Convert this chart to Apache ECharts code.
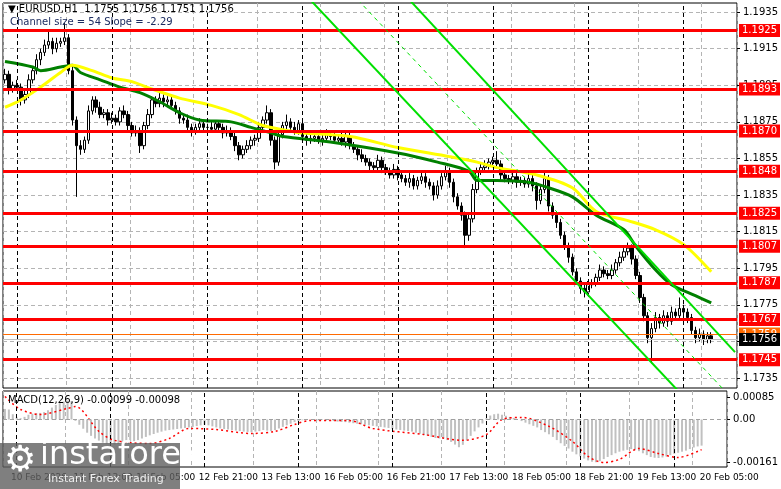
<!DOCTYPE html>
<html><head><meta charset="utf-8">
<script src="https://cdn.jsdelivr.net/npm/echarts@6/dist/echarts.min.js"></script>
<style>html,body{margin:0;padding:0;background:#fff}#c{width:781px;height:489px}</style>
</head><body><div id="c"></div>
<script>
// ---------- DATA ----------
const tickLabels = ['10 Feb 2026','11 Feb 13:00','12 Feb 05:00','12 Feb 21:00','13 Feb 13:00','16 Feb 05:00','16 Feb 21:00','17 Feb 13:00','18 Feb 05:00','18 Feb 21:00','19 Feb 13:00','20 Feb 05:00'];
const firstOpen = 1.1898;
const closes = [
1.1901,1.1893,1.1895,1.1894,1.1887,1.1890,1.1898,1.1903,1.1909,1.1913,
1.1917,1.1919,1.1915,1.1918,1.1919,1.1921,1.1903,1.1876,1.1862,1.1860,
1.1865,1.1881,1.1887,1.1883,1.1879,1.1880,1.1876,1.1877,1.1875,1.1881,
1.1879,1.1873,1.1869,1.1870,1.1862,1.1873,1.1879,1.1887,1.1885,1.1888,
1.1886,1.1887,1.1884,1.1881,1.1877,1.1876,1.1872,1.1870,1.1872,1.1874,
1.1872,1.1872,1.1871,1.1874,1.1872,1.1869,1.1870,1.1867,1.1862,1.1857,
1.1860,1.1862,1.1865,1.1866,1.1872,1.1876,1.1880,1.1865,1.1853,1.1868,
1.1873,1.1875,1.1872,1.1870,1.1874,1.1867,1.1865,1.1866,1.1867,1.1865,
1.1866,1.1868,1.1867,1.1865,1.1866,1.1864,1.1867,1.1862,1.1860,1.1857,
1.1855,1.1853,1.1851,1.1850,1.1854,1.1850,1.1848,1.1846,1.1849,1.1846,
1.1844,1.1842,1.1844,1.1840,1.1843,1.1845,1.1842,1.1840,1.1835,1.1840,
1.1845,1.1848,1.1842,1.1834,1.1829,1.1824,1.1813,1.1822,1.1838,1.1848,
1.1850,1.1851,1.1853,1.1854,1.1852,1.1846,1.1844,1.1843,1.1845,1.1842,
1.1843,1.1841,1.1844,1.1840,1.1832,1.1838,1.1844,1.1829,1.1824,1.1820,
1.1813,1.1807,1.1801,1.1793,1.1788,1.1784,1.1782,1.1786,1.1787,1.1790,
1.1794,1.1792,1.1791,1.1794,1.1798,1.1801,1.1804,1.1806,1.1800,1.1791,
1.1779,1.1769,1.1757,1.1762,1.1768,1.1765,1.1769,1.1766,1.1771,1.1769,
1.1773,1.1771,1.1768,1.1761,1.1757,1.1759,1.1756,1.1758,1.1756];
// wick lengths in pips above max(open,close) / below min(open,close)
const wickUp = [
3,2,2,3,2,2,3,2,3,2, 3,6,2,3,2,8,2,2,2,3, 2,3,2,2,3,2,2,3,2,2,
3,2,2,3,2,2,3,2,2,3, 2,2,3,2,2,2,3,2,2,3, 2,2,3,2,2,2,3,2,2,2,
2,3,2,2,3,2,4,2,2,3, 2,4,2,3,2,2,2,3,2,2, 2,3,2,2,2,3,2,2,2,2,
3,2,2,2,3,2,2,2,3,2, 2,2,3,2,2,3,2,2,2,3, 2,3,2,2,2,2,2,3,3,2,
2,3,2,2,5,2,2,2,3,2, 2,2,3,2,2,2,4,2,2,2, 2,2,2,2,2,2,3,2,2,2,
3,2,2,3,2,3,2,3,2,2, 2,2,2,3,3,2,3,2,3,2, 6,2,2,2,2,3,2,2,2];
const wickDn = [
2,3,2,2,3,2,2,2,2,3, 2,2,3,2,2,2,2,3,28,3, 2,2,2,3,2,2,3,2,2,2,
2,3,2,2,4,2,2,2,2,2, 3,2,2,2,3,2,2,3,2,2, 2,3,2,2,2,3,2,2,3,3,
2,2,2,3,2,2,2,3,4,2, 2,2,3,2,2,2,3,2,2,2, 3,2,2,2,2,2,3,2,2,3,
2,2,3,2,2,3,2,2,2,3, 2,2,3,2,2,2,3,2,3,2, 2,2,3,3,2,3,7,3,2,2,
2,2,2,2,2,3,2,2,2,3, 2,2,2,3,5,2,2,3,2,3, 2,2,3,2,2,3,3,2,2,2,
2,2,2,2,2,2,2,2,3,2, 3,3,3,14,2,3,2,3,2,2, 2,2,3,2,3,2,3,2,2];
// moving averages read at sample candles [index, price]
const maGreen = [[0,1.1908],[7,1.1905],[9,1.1903],[14,1.1905],[17,1.1906],[19,1.1902],[24,1.1898],[29,1.1894],[34,1.1891],[39,1.1886],[44,1.1880],[49,1.1876],[57,1.1875],[62,1.1872],[67,1.1869],[70,1.1867],[82,1.1864],[99,1.1858],[109,1.1853],[117,1.1848],[119,1.1843],[124,1.1843],[132,1.1842],[137,1.1839],[143,1.1834],[149,1.1824],[156,1.1816],[159,1.1807],[164,1.1794],[168,1.1786],[174,1.1780],[178,1.1776]];
const maYellow = [[0,1.1883],[4,1.1887],[9,1.1894],[14,1.1902],[17,1.1906],[22,1.1903],[27,1.1899],[32,1.1897],[37,1.1893],[44,1.1888],[52,1.1884],[59,1.1879],[65,1.1873],[72,1.1870],[74,1.1869],[87,1.1867],[99,1.1861],[112,1.1856],[119,1.1853],[124,1.1850],[134,1.1846],[143,1.1839],[149,1.1826],[157,1.1821],[164,1.1816],[171,1.1808],[178,1.1793]];
const levels = [1.1925,1.1893,1.1870,1.1848,1.1825,1.1807,1.1787,1.1767,1.1745];
const askLevel = 1.1759, bidLevel = 1.1756;
const priceTicks = [1.1735,1.1755,1.1775,1.1795,1.1815,1.1835,1.1855,1.1875,1.1895,1.1915,1.1935];
const channelLower = [[76.75,1.19416],[184,1.16949]];
const channelUpper = [[101.75,1.19416],[184,1.17491]];
const channelMid = [[89.25,1.19416],[184,1.1722]];
const daySeparators = [3,27,51,75,99,123,147,171];
// MACD histogram in 1e-5 units
const macdHist = [40,38,20,8, 5,10,18, 22,24,25,28, 35,45,55,62,68,72,70, -5,
-20,-35,-50,-62,-72,-80,-88, -92,-94,-95,-93,-90,-88,-85,-82,-78,-72,
-66,-60,-55,-50,-46,-42,-40,-38,-36, -34,-32,-30,-28,-25,-22,-20,-22,-26,
-30,-34,-36,-38,-40,-42,-44,-46,-47,-48,-46,-44,-40,-42,-44,-40,
-34,-28,-22,-16,-10,-6,-3,-2, -1,-2,-3,-2,-4,-5,-6,-8,-9,-10,
-12,-14,-16,-18,-20,-22,-24,-26,-28,-30,-32,-35,
-38,-40,-42,-44,-46,-50,-54,-58,-62,-66,-70,-72,-74,-78,-85,-95,-105,
-96,-80,-62,-45,-30,-15, 5,15,20,22,18,14,10,6,
0,-6,-12,-18,-24,-30,-40,-48,-56, -66,-78,-90,-100,-110,
-122,-132,-140,-148,-155,-160,-162,-158, -150,-142,-135,-128,-122,-118,-115,-112,
-115,-120,-128,-135,-142,-145,-146,-144, -140,-135,-130,-126,-122,-118,-112,-106,-102,-99];
const macdSignal = [[0,87],[4,38],[9,19],[16,42],[18,49],[24,-45],[28,-79],[37,-91],[42,-72],[47,-34],[54,-38],[63,-53],[69,-45],[74,-19],[78,-4],[88,-4],[94,-34],[107,-57],[117,-79],[123,-57],[127,0],[132,8],[139,-26],[145,-83],[149,-140],[153,-163],[157,-151],[162,-110],[167,-129],[172,-144],[178,-114]];
const NCAT = 185;

// ---------- BUILD ----------
const cats = Array.from({length:NCAT},(_,i)=>String(i));
const pip = 0.0001;
const candles = closes.map((c,i)=>{
  const o = i===0 ? firstOpen : closes[i-1];
  const hi = Math.max(o,c)+wickUp[i]*pip, lo = Math.min(o,c)-wickDn[i]*pip;
  return [o,c,lo,hi];
});
const toSparse = arr => { const a = new Array(NCAT).fill(null); arr.forEach(([i,v])=>a[i]=v); return a; };
const histData = macdHist.map(v=>v*1e-5);
const sigData = toSparse(macdSignal.map(([i,v])=>[i,v*1e-5]));
const font = 'DejaVu Sans';
const isTick = i => i%16===0 && i<=176;

const hLine = (v,color,width,bg,fg)=>({
  type:'line',xAxisIndex:0,yAxisIndex:0,data:[],silent:true,z:2,
  markLine:{symbol:'none',silent:true,animation:false,precision:4,
    data:[{yAxis:v}],
    lineStyle:{color:color,type:'solid',width:width},
    label:{show:true,position:'end',distance:2,formatter:()=>v.toFixed(4),backgroundColor:bg,color:fg,padding:[2,3,1,3],fontFamily:font,fontSize:10}}
});
const vLines = (xi,yi)=>({
  type:'line',xAxisIndex:xi,yAxisIndex:yi,data:[],silent:true,z:1,
  markLine:{symbol:'none',silent:true,animation:false,
    data:daySeparators.map(i=>({xAxis:i})),
    lineStyle:{color:'#000',type:[4,3],width:1},label:{show:false}}
});

const chart = echarts.init(document.getElementById('c'));
chart.setOption({
  animation:false,
  backgroundColor:'#fff',
  grid:[{left:3,right:41,top:3,bottom:101,show:true,borderColor:'#000',borderWidth:1},
        {left:3,right:41,top:391,bottom:22,show:true,borderColor:'#000',borderWidth:1}],
  xAxis:[
    {type:'category',data:cats,gridIndex:0,boundaryGap:true,axisLine:{show:false},axisTick:{show:false},axisLabel:{show:false},
     splitLine:{show:true,interval:(i)=>isTick(i),lineStyle:{color:'#b4b4b4',type:[4,3]}}},
    {type:'category',data:cats,gridIndex:1,boundaryGap:true,axisLine:{show:false},axisTick:{show:false},
     axisLabel:{show:true,interval:(i)=>isTick(i),formatter:(v,i)=>tickLabels[i/16],align:'left',margin:6,
       showMaxLabel:true,hideOverlap:false,color:'#000',fontFamily:font,fontSize:9,padding:[0,0,0,6]},
     splitLine:{show:true,interval:(i)=>isTick(i),lineStyle:{color:'#b4b4b4',type:[4,3]}}}
  ],
  yAxis:[
    {type:'value',gridIndex:0,position:'right',min:1.17295,max:1.1940,scale:true,
     axisLine:{show:false},
     axisTick:{show:true,customValues:priceTicks,length:3,lineStyle:{color:'#000'}},
     axisLabel:{show:true,customValues:priceTicks,formatter:v=>v.toFixed(4),color:'#000',fontFamily:font,fontSize:10,margin:6},
     splitLine:{show:true,lineStyle:{color:'#b4b4b4',type:[4,3]}}},
    {type:'value',gridIndex:1,position:'right',min:-0.0018,max:0.00108,
     axisLine:{show:false},
     axisTick:{show:true,customValues:[-0.00161,0,0.00085],length:3,lineStyle:{color:'#000'}},
     axisLabel:{show:true,customValues:[-0.00161,0,0.00085],formatter:v=>v===0?'0.00':v.toFixed(5),color:'#000',fontFamily:font,fontSize:10,margin:6},
     splitLine:{show:false}}
  ],
  series:[
    vLines(0,0),
    ...levels.map(v=>hLine(v,'#ff0000',3,'#ff0000','#fff')),
    hLine(askLevel,'#ff6a00',1,'#ff6a00','#fff'),
    hLine(bidLevel,'#c0c0c0',1,'#000','#fff'),
    {type:'candlestick',xAxisIndex:0,yAxisIndex:0,data:candles,barWidth:3,z:3,
     itemStyle:{color:'#fff',color0:'#000',borderColor:'#000',borderColor0:'#000',borderWidth:1}},
    {type:'line',xAxisIndex:0,yAxisIndex:0,data:toSparse(maGreen),connectNulls:true,showSymbol:false,smooth:0.3,lineStyle:{color:'#008000',width:3},z:4},
    {type:'line',xAxisIndex:0,yAxisIndex:0,data:toSparse(maYellow),connectNulls:true,showSymbol:false,smooth:0.3,lineStyle:{color:'#ffff00',width:3},z:4},
    {type:'line',xAxisIndex:0,yAxisIndex:0,data:channelLower,showSymbol:false,clip:true,lineStyle:{color:'#00e000',width:2},z:5},
    {type:'line',xAxisIndex:0,yAxisIndex:0,data:channelUpper,showSymbol:false,clip:true,lineStyle:{color:'#00e000',width:2},z:5},
    {type:'line',xAxisIndex:0,yAxisIndex:0,data:channelMid,showSymbol:false,clip:true,lineStyle:{color:'#00e000',width:1,type:[4,4]},z:5},
    vLines(1,1),
    {type:'bar',xAxisIndex:1,yAxisIndex:1,data:histData,barWidth:2,itemStyle:{color:'#c0c0c0'},z:2,
     markLine:{symbol:'none',silent:true,animation:false,data:[{yAxis:0}],lineStyle:{color:'#a0a0a0',type:[4,3],width:1},label:{show:false}}},
    {type:'line',xAxisIndex:1,yAxisIndex:1,data:sigData,connectNulls:true,showSymbol:false,smooth:0.3,lineStyle:{color:'#ff0000',width:1.5,type:[2,3]},z:4}
  ],
  graphic:[
    {type:'text',left:8,top:4,style:{text:'▼ EURUSD,H1  1.1755 1.1756 1.1751 1.1756',font:'10px '+font,fill:'#000'},z:100},
    {type:'text',left:10,top:17,style:{text:'Channel size = 54 Slope = -2.29',font:'10px '+font,fill:'#1c2c60'},z:100},
    {type:'text',left:8,top:395,style:{text:'MACD(12,26,9) -0.00099 -0.00098',font:'10px '+font,fill:'#000'},z:100},
    {type:'rect',shape:{x:0,y:443,width:180,height:46},style:{fill:'rgba(95,95,95,0.8)'},z:100},
    {type:'text',left:4,top:444,style:{text:'⚙',font:'36px '+font,fill:'#fff'},z:101},
    {type:'text',left:40,top:440,style:{text:'instaforex',font:'32px '+font,fill:'#fff'},z:101},
    {type:'text',left:48,top:474,style:{text:'Instant Forex Trading',font:'11px '+font,fill:'#eee'},z:101}
  ]
});
</script></body></html>
